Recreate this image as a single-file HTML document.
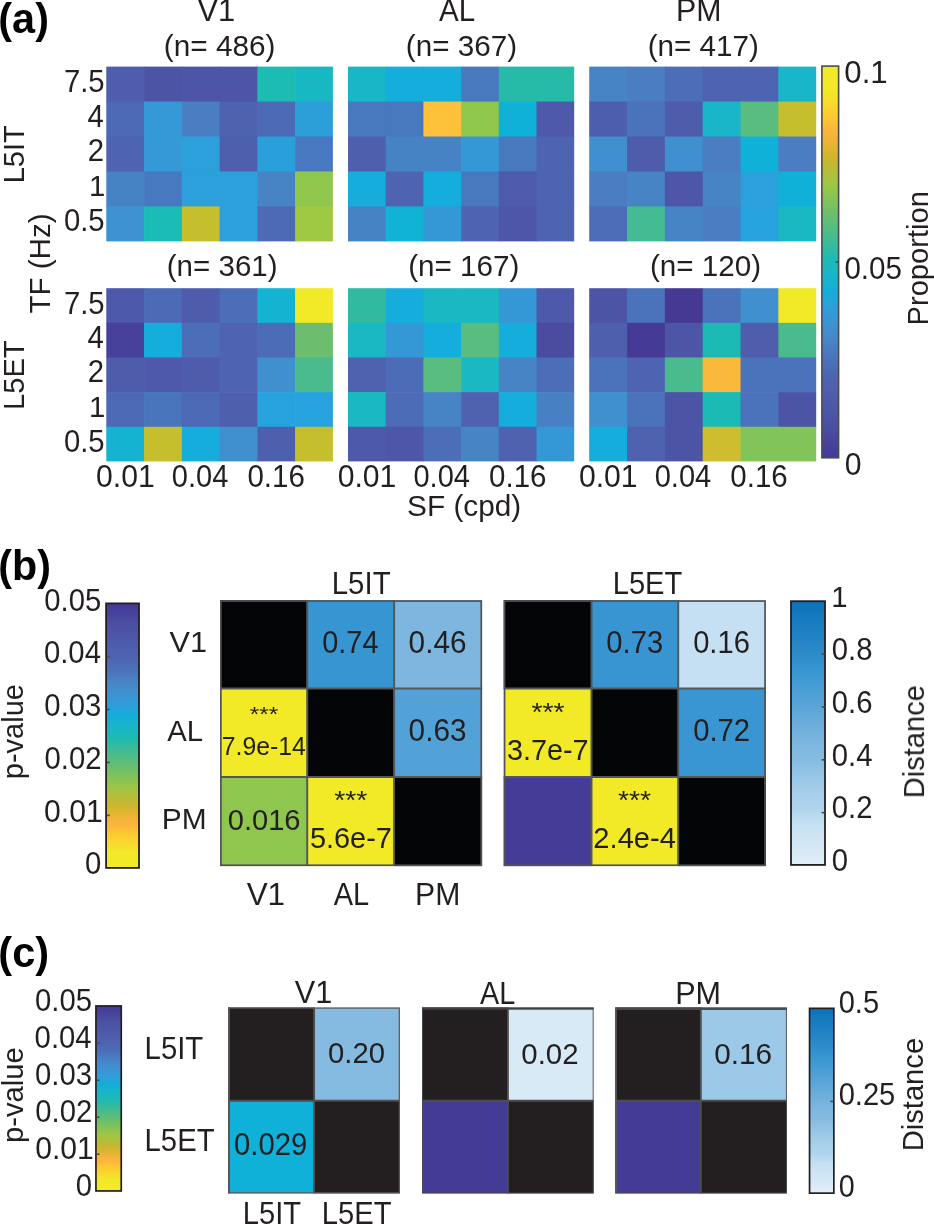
<!DOCTYPE html>
<html lang="en"><head><meta charset="utf-8"><title>Figure</title>
<style>
html,body{margin:0;padding:0;background:#fff;}
body{width:934px;height:1224px;overflow:hidden;}
svg{display:block;}
svg text{font-family:"Liberation Sans",Arial,Helvetica,sans-serif;}
</style></head><body>
<svg width="934" height="1224" viewBox="0 0 934 1224">
<rect width="934" height="1224" fill="#fff"/>
<defs>
<linearGradient id="gp" x1="0" y1="0" x2="0" y2="1">
<stop offset="0.0000" stop-color="#F2EA27"/>
<stop offset="0.0600" stop-color="#F2E928"/>
<stop offset="0.1030" stop-color="#FAD52E"/>
<stop offset="0.1320" stop-color="#FDC830"/>
<stop offset="0.1610" stop-color="#FBB63D"/>
<stop offset="0.1900" stop-color="#F0B338"/>
<stop offset="0.2190" stop-color="#D9B52B"/>
<stop offset="0.2480" stop-color="#C4B732"/>
<stop offset="0.2770" stop-color="#B0C03A"/>
<stop offset="0.3060" stop-color="#9CC646"/>
<stop offset="0.3400" stop-color="#84C357"/>
<stop offset="0.3610" stop-color="#76C163"/>
<stop offset="0.4040" stop-color="#5ABD7C"/>
<stop offset="0.4480" stop-color="#3EBB97"/>
<stop offset="0.4915" stop-color="#1DBAB3"/>
<stop offset="0.5350" stop-color="#18B5C8"/>
<stop offset="0.5790" stop-color="#14ADDA"/>
<stop offset="0.6080" stop-color="#2AA1DC"/>
<stop offset="0.6370" stop-color="#3598D6"/>
<stop offset="0.6660" stop-color="#4090D0"/>
<stop offset="0.7040" stop-color="#4784C6"/>
<stop offset="0.7480" stop-color="#4A73BB"/>
<stop offset="0.7910" stop-color="#4D65B2"/>
<stop offset="0.8350" stop-color="#4F5DAD"/>
<stop offset="0.8780" stop-color="#4D56A8"/>
<stop offset="0.9220" stop-color="#4B4FA3"/>
<stop offset="0.9660" stop-color="#47419C"/>
<stop offset="1.0000" stop-color="#443A98"/>
</linearGradient>
<linearGradient id="gpr" x1="0" y1="0" x2="0" y2="1">
<stop offset="0.0000" stop-color="#443A98"/>
<stop offset="0.0340" stop-color="#47419C"/>
<stop offset="0.0780" stop-color="#4B4FA3"/>
<stop offset="0.1220" stop-color="#4D56A8"/>
<stop offset="0.1650" stop-color="#4F5DAD"/>
<stop offset="0.2090" stop-color="#4D65B2"/>
<stop offset="0.2520" stop-color="#4A73BB"/>
<stop offset="0.2960" stop-color="#4784C6"/>
<stop offset="0.3340" stop-color="#4090D0"/>
<stop offset="0.3630" stop-color="#3598D6"/>
<stop offset="0.3920" stop-color="#2AA1DC"/>
<stop offset="0.4210" stop-color="#14ADDA"/>
<stop offset="0.4650" stop-color="#18B5C8"/>
<stop offset="0.5085" stop-color="#1DBAB3"/>
<stop offset="0.5520" stop-color="#3EBB97"/>
<stop offset="0.5960" stop-color="#5ABD7C"/>
<stop offset="0.6390" stop-color="#76C163"/>
<stop offset="0.6600" stop-color="#84C357"/>
<stop offset="0.6940" stop-color="#9CC646"/>
<stop offset="0.7230" stop-color="#B0C03A"/>
<stop offset="0.7520" stop-color="#C4B732"/>
<stop offset="0.7810" stop-color="#D9B52B"/>
<stop offset="0.8100" stop-color="#F0B338"/>
<stop offset="0.8390" stop-color="#FBB63D"/>
<stop offset="0.8680" stop-color="#FDC830"/>
<stop offset="0.8970" stop-color="#FAD52E"/>
<stop offset="0.9400" stop-color="#F2E928"/>
<stop offset="1.0000" stop-color="#F2EA27"/>
</linearGradient>
<linearGradient id="gb" x1="0" y1="0" x2="0" y2="1">
<stop offset="0.0000" stop-color="#0B72B9"/>
<stop offset="0.2000" stop-color="#2D8BCA"/>
<stop offset="0.2600" stop-color="#3795D1"/>
<stop offset="0.3700" stop-color="#53A2D7"/>
<stop offset="0.5400" stop-color="#7DB6DF"/>
<stop offset="0.6000" stop-color="#85BBE1"/>
<stop offset="0.6800" stop-color="#9CC9E8"/>
<stop offset="0.8000" stop-color="#B4D6EE"/>
<stop offset="0.8400" stop-color="#C5E0F3"/>
<stop offset="0.9600" stop-color="#D9EAF7"/>
<stop offset="1.0000" stop-color="#E3F0F9"/>
</linearGradient>
</defs>
<g>
<rect x="106.30" y="66.60" width="38.37" height="35.56" fill="#4E5DAD"/>
<rect x="144.07" y="66.60" width="38.37" height="35.56" fill="#4C54A6"/>
<rect x="181.83" y="66.60" width="38.37" height="35.56" fill="#4C55A7"/>
<rect x="219.60" y="66.60" width="38.37" height="35.56" fill="#4C55A7"/>
<rect x="257.37" y="66.60" width="38.37" height="35.56" fill="#1CBCB3"/>
<rect x="295.13" y="66.60" width="37.77" height="35.56" fill="#18B7C4"/>
<rect x="106.30" y="101.56" width="38.37" height="35.56" fill="#4C69B5"/>
<rect x="144.07" y="101.56" width="38.37" height="35.56" fill="#3499D6"/>
<rect x="181.83" y="101.56" width="38.37" height="35.56" fill="#4A7EC2"/>
<rect x="219.60" y="101.56" width="38.37" height="35.56" fill="#4E62B0"/>
<rect x="257.37" y="101.56" width="38.37" height="35.56" fill="#4C6AB6"/>
<rect x="295.13" y="101.56" width="37.77" height="35.56" fill="#2C9FD9"/>
<rect x="106.30" y="136.52" width="38.37" height="35.56" fill="#4E64B2"/>
<rect x="144.07" y="136.52" width="38.37" height="35.56" fill="#3499D6"/>
<rect x="181.83" y="136.52" width="38.37" height="35.56" fill="#2CA0DA"/>
<rect x="219.60" y="136.52" width="38.37" height="35.56" fill="#4E5FAE"/>
<rect x="257.37" y="136.52" width="38.37" height="35.56" fill="#2AA0DA"/>
<rect x="295.13" y="136.52" width="37.77" height="35.56" fill="#4878BF"/>
<rect x="106.30" y="171.48" width="38.37" height="35.56" fill="#4683C5"/>
<rect x="144.07" y="171.48" width="38.37" height="35.56" fill="#4878BF"/>
<rect x="181.83" y="171.48" width="38.37" height="35.56" fill="#2CA0DA"/>
<rect x="219.60" y="171.48" width="38.37" height="35.56" fill="#2CA0DA"/>
<rect x="257.37" y="171.48" width="38.37" height="35.56" fill="#4684C6"/>
<rect x="295.13" y="171.48" width="37.77" height="35.56" fill="#8FC74D"/>
<rect x="106.30" y="206.44" width="38.37" height="34.96" fill="#3F92D2"/>
<rect x="144.07" y="206.44" width="38.37" height="34.96" fill="#1BBCB8"/>
<rect x="181.83" y="206.44" width="38.37" height="34.96" fill="#C5BE2D"/>
<rect x="219.60" y="206.44" width="38.37" height="34.96" fill="#2CA0DA"/>
<rect x="257.37" y="206.44" width="38.37" height="34.96" fill="#4C6AB6"/>
<rect x="295.13" y="206.44" width="37.77" height="34.96" fill="#A0C943"/>
</g>
<g>
<rect x="106.30" y="288.20" width="38.37" height="35.24" fill="#4D59AA"/>
<rect x="144.07" y="288.20" width="38.37" height="35.24" fill="#4C6AB6"/>
<rect x="181.83" y="288.20" width="38.37" height="35.24" fill="#4E5CAC"/>
<rect x="219.60" y="288.20" width="38.37" height="35.24" fill="#4C6EB8"/>
<rect x="257.37" y="288.20" width="38.37" height="35.24" fill="#14B3D2"/>
<rect x="295.13" y="288.20" width="37.77" height="35.24" fill="#F2EA27"/>
<rect x="106.30" y="322.84" width="38.37" height="35.24" fill="#47419C"/>
<rect x="144.07" y="322.84" width="38.37" height="35.24" fill="#14ADDC"/>
<rect x="181.83" y="322.84" width="38.37" height="35.24" fill="#4C6EB8"/>
<rect x="219.60" y="322.84" width="38.37" height="35.24" fill="#4E64B2"/>
<rect x="257.37" y="322.84" width="38.37" height="35.24" fill="#4C6CB7"/>
<rect x="295.13" y="322.84" width="37.77" height="35.24" fill="#6CBE6E"/>
<rect x="106.30" y="357.48" width="38.37" height="35.24" fill="#4E5CAC"/>
<rect x="144.07" y="357.48" width="38.37" height="35.24" fill="#4E59AB"/>
<rect x="181.83" y="357.48" width="38.37" height="35.24" fill="#4E5CAC"/>
<rect x="219.60" y="357.48" width="38.37" height="35.24" fill="#4E64B2"/>
<rect x="257.37" y="357.48" width="38.37" height="35.24" fill="#4090D0"/>
<rect x="295.13" y="357.48" width="37.77" height="35.24" fill="#4ABB8C"/>
<rect x="106.30" y="392.12" width="38.37" height="35.24" fill="#4C69B5"/>
<rect x="144.07" y="392.12" width="38.37" height="35.24" fill="#4975BC"/>
<rect x="181.83" y="392.12" width="38.37" height="35.24" fill="#4C69B5"/>
<rect x="219.60" y="392.12" width="38.37" height="35.24" fill="#4E5FAE"/>
<rect x="257.37" y="392.12" width="38.37" height="35.24" fill="#26A3DE"/>
<rect x="295.13" y="392.12" width="37.77" height="35.24" fill="#26A3DE"/>
<rect x="106.30" y="426.76" width="38.37" height="34.64" fill="#14B3D2"/>
<rect x="144.07" y="426.76" width="38.37" height="34.64" fill="#C5BE2D"/>
<rect x="181.83" y="426.76" width="38.37" height="34.64" fill="#14ADDC"/>
<rect x="219.60" y="426.76" width="38.37" height="34.64" fill="#4090D0"/>
<rect x="257.37" y="426.76" width="38.37" height="34.64" fill="#4E5FAE"/>
<rect x="295.13" y="426.76" width="37.77" height="34.64" fill="#C5BE2D"/>
</g>
<g>
<rect x="348.00" y="66.60" width="38.30" height="35.56" fill="#18B6C6"/>
<rect x="385.70" y="66.60" width="38.30" height="35.56" fill="#14ADDC"/>
<rect x="423.40" y="66.60" width="38.30" height="35.56" fill="#14ADDC"/>
<rect x="461.10" y="66.60" width="38.30" height="35.56" fill="#4878BE"/>
<rect x="498.80" y="66.60" width="38.30" height="35.56" fill="#26BBA8"/>
<rect x="536.50" y="66.60" width="37.70" height="35.56" fill="#26BBA8"/>
<rect x="348.00" y="101.56" width="38.30" height="35.56" fill="#4878BE"/>
<rect x="385.70" y="101.56" width="38.30" height="35.56" fill="#4878BE"/>
<rect x="423.40" y="101.56" width="38.30" height="35.56" fill="#FDC23A"/>
<rect x="461.10" y="101.56" width="38.30" height="35.56" fill="#8FC74D"/>
<rect x="498.80" y="101.56" width="38.30" height="35.56" fill="#10B1D8"/>
<rect x="536.50" y="101.56" width="37.70" height="35.56" fill="#4E59AB"/>
<rect x="348.00" y="136.52" width="38.30" height="35.56" fill="#4E5FAE"/>
<rect x="385.70" y="136.52" width="38.30" height="35.56" fill="#4683C5"/>
<rect x="423.40" y="136.52" width="38.30" height="35.56" fill="#4683C5"/>
<rect x="461.10" y="136.52" width="38.30" height="35.56" fill="#3598D6"/>
<rect x="498.80" y="136.52" width="38.30" height="35.56" fill="#4878BE"/>
<rect x="536.50" y="136.52" width="37.70" height="35.56" fill="#4E64B2"/>
<rect x="348.00" y="171.48" width="38.30" height="35.56" fill="#14ADDC"/>
<rect x="385.70" y="171.48" width="38.30" height="35.56" fill="#4E64B2"/>
<rect x="423.40" y="171.48" width="38.30" height="35.56" fill="#14ADDC"/>
<rect x="461.10" y="171.48" width="38.30" height="35.56" fill="#4878BE"/>
<rect x="498.80" y="171.48" width="38.30" height="35.56" fill="#4E5AAB"/>
<rect x="536.50" y="171.48" width="37.70" height="35.56" fill="#4E64B2"/>
<rect x="348.00" y="206.44" width="38.30" height="34.96" fill="#4683C5"/>
<rect x="385.70" y="206.44" width="38.30" height="34.96" fill="#10B3D6"/>
<rect x="423.40" y="206.44" width="38.30" height="34.96" fill="#3598D6"/>
<rect x="461.10" y="206.44" width="38.30" height="34.96" fill="#4E64B2"/>
<rect x="498.80" y="206.44" width="38.30" height="34.96" fill="#4D56A8"/>
<rect x="536.50" y="206.44" width="37.70" height="34.96" fill="#4E64B2"/>
</g>
<g>
<rect x="348.00" y="288.20" width="38.30" height="35.24" fill="#30BBA0"/>
<rect x="385.70" y="288.20" width="38.30" height="35.24" fill="#14ADDC"/>
<rect x="423.40" y="288.20" width="38.30" height="35.24" fill="#1AB8C2"/>
<rect x="461.10" y="288.20" width="38.30" height="35.24" fill="#1AB8C2"/>
<rect x="498.80" y="288.20" width="38.30" height="35.24" fill="#3598D6"/>
<rect x="536.50" y="288.20" width="37.70" height="35.24" fill="#4D59AA"/>
<rect x="348.00" y="322.84" width="38.30" height="35.24" fill="#1AB8C2"/>
<rect x="385.70" y="322.84" width="38.30" height="35.24" fill="#3598D6"/>
<rect x="423.40" y="322.84" width="38.30" height="35.24" fill="#14ADDC"/>
<rect x="461.10" y="322.84" width="38.30" height="35.24" fill="#5ABD80"/>
<rect x="498.80" y="322.84" width="38.30" height="35.24" fill="#14ADDC"/>
<rect x="536.50" y="322.84" width="37.70" height="35.24" fill="#4B4CA0"/>
<rect x="348.00" y="357.48" width="38.30" height="35.24" fill="#4E62B0"/>
<rect x="385.70" y="357.48" width="38.30" height="35.24" fill="#4C6CB7"/>
<rect x="423.40" y="357.48" width="38.30" height="35.24" fill="#5ABD80"/>
<rect x="461.10" y="357.48" width="38.30" height="35.24" fill="#1AB8C2"/>
<rect x="498.80" y="357.48" width="38.30" height="35.24" fill="#4684C6"/>
<rect x="536.50" y="357.48" width="37.70" height="35.24" fill="#4C6EB8"/>
<rect x="348.00" y="392.12" width="38.30" height="35.24" fill="#1AB8C2"/>
<rect x="385.70" y="392.12" width="38.30" height="35.24" fill="#4C6CB7"/>
<rect x="423.40" y="392.12" width="38.30" height="35.24" fill="#4684C6"/>
<rect x="461.10" y="392.12" width="38.30" height="35.24" fill="#4E62B0"/>
<rect x="498.80" y="392.12" width="38.30" height="35.24" fill="#14ADDC"/>
<rect x="536.50" y="392.12" width="37.70" height="35.24" fill="#4880C4"/>
<rect x="348.00" y="426.76" width="38.30" height="34.64" fill="#4D59AA"/>
<rect x="385.70" y="426.76" width="38.30" height="34.64" fill="#4D56A8"/>
<rect x="423.40" y="426.76" width="38.30" height="34.64" fill="#4C6EB8"/>
<rect x="461.10" y="426.76" width="38.30" height="34.64" fill="#4684C6"/>
<rect x="498.80" y="426.76" width="38.30" height="34.64" fill="#4E62B0"/>
<rect x="536.50" y="426.76" width="37.70" height="34.64" fill="#3598D6"/>
</g>
<g>
<rect x="589.20" y="66.60" width="38.43" height="35.56" fill="#4684C6"/>
<rect x="627.03" y="66.60" width="38.43" height="35.56" fill="#4A7DC2"/>
<rect x="664.87" y="66.60" width="38.43" height="35.56" fill="#4C6EB8"/>
<rect x="702.70" y="66.60" width="38.43" height="35.56" fill="#4E64B2"/>
<rect x="740.53" y="66.60" width="38.43" height="35.56" fill="#4E64B2"/>
<rect x="778.37" y="66.60" width="37.83" height="35.56" fill="#18B6C8"/>
<rect x="589.20" y="101.56" width="38.43" height="35.56" fill="#4E5EAE"/>
<rect x="627.03" y="101.56" width="38.43" height="35.56" fill="#4A73BB"/>
<rect x="664.87" y="101.56" width="38.43" height="35.56" fill="#4E5CAC"/>
<rect x="702.70" y="101.56" width="38.43" height="35.56" fill="#18B6C8"/>
<rect x="740.53" y="101.56" width="38.43" height="35.56" fill="#5ABD80"/>
<rect x="778.37" y="101.56" width="37.83" height="35.56" fill="#C5BE2D"/>
<rect x="589.20" y="136.52" width="38.43" height="35.56" fill="#4090D0"/>
<rect x="627.03" y="136.52" width="38.43" height="35.56" fill="#4E5CAC"/>
<rect x="664.87" y="136.52" width="38.43" height="35.56" fill="#4090D0"/>
<rect x="702.70" y="136.52" width="38.43" height="35.56" fill="#4A7DC2"/>
<rect x="740.53" y="136.52" width="38.43" height="35.56" fill="#10B1D8"/>
<rect x="778.37" y="136.52" width="37.83" height="35.56" fill="#4A7DC2"/>
<rect x="589.20" y="171.48" width="38.43" height="35.56" fill="#4A7DC2"/>
<rect x="627.03" y="171.48" width="38.43" height="35.56" fill="#4684C6"/>
<rect x="664.87" y="171.48" width="38.43" height="35.56" fill="#4D56A8"/>
<rect x="702.70" y="171.48" width="38.43" height="35.56" fill="#4684C6"/>
<rect x="740.53" y="171.48" width="38.43" height="35.56" fill="#2CA0DA"/>
<rect x="778.37" y="171.48" width="37.83" height="35.56" fill="#10B1D8"/>
<rect x="589.20" y="206.44" width="38.43" height="34.96" fill="#4C6EB8"/>
<rect x="627.03" y="206.44" width="38.43" height="34.96" fill="#44BB92"/>
<rect x="664.87" y="206.44" width="38.43" height="34.96" fill="#4684C6"/>
<rect x="702.70" y="206.44" width="38.43" height="34.96" fill="#4A7DC2"/>
<rect x="740.53" y="206.44" width="38.43" height="34.96" fill="#26A3DE"/>
<rect x="778.37" y="206.44" width="37.83" height="34.96" fill="#1AB8C2"/>
</g>
<g>
<rect x="589.20" y="288.20" width="38.43" height="35.24" fill="#4C54A6"/>
<rect x="627.03" y="288.20" width="38.43" height="35.24" fill="#4A73BB"/>
<rect x="664.87" y="288.20" width="38.43" height="35.24" fill="#453993"/>
<rect x="702.70" y="288.20" width="38.43" height="35.24" fill="#4A73BB"/>
<rect x="740.53" y="288.20" width="38.43" height="35.24" fill="#4090D0"/>
<rect x="778.37" y="288.20" width="37.83" height="35.24" fill="#F2EA27"/>
<rect x="589.20" y="322.84" width="38.43" height="35.24" fill="#4E5FAE"/>
<rect x="627.03" y="322.84" width="38.43" height="35.24" fill="#453A96"/>
<rect x="664.87" y="322.84" width="38.43" height="35.24" fill="#4C55A6"/>
<rect x="702.70" y="322.84" width="38.43" height="35.24" fill="#1CBAB4"/>
<rect x="740.53" y="322.84" width="38.43" height="35.24" fill="#4E5EAD"/>
<rect x="778.37" y="322.84" width="37.83" height="35.24" fill="#4ABB8C"/>
<rect x="589.20" y="357.48" width="38.43" height="35.24" fill="#4A73BB"/>
<rect x="627.03" y="357.48" width="38.43" height="35.24" fill="#4E64B2"/>
<rect x="664.87" y="357.48" width="38.43" height="35.24" fill="#4ABB8C"/>
<rect x="702.70" y="357.48" width="38.43" height="35.24" fill="#FBB93C"/>
<rect x="740.53" y="357.48" width="38.43" height="35.24" fill="#4A73BB"/>
<rect x="778.37" y="357.48" width="37.83" height="35.24" fill="#4A73BB"/>
<rect x="589.20" y="392.12" width="38.43" height="35.24" fill="#4090D0"/>
<rect x="627.03" y="392.12" width="38.43" height="35.24" fill="#4A73BB"/>
<rect x="664.87" y="392.12" width="38.43" height="35.24" fill="#4C54A6"/>
<rect x="702.70" y="392.12" width="38.43" height="35.24" fill="#1CBAB4"/>
<rect x="740.53" y="392.12" width="38.43" height="35.24" fill="#4A73BB"/>
<rect x="778.37" y="392.12" width="37.83" height="35.24" fill="#4C54A6"/>
<rect x="589.20" y="426.76" width="38.43" height="34.64" fill="#14ADDC"/>
<rect x="627.03" y="426.76" width="38.43" height="34.64" fill="#4E62B0"/>
<rect x="664.87" y="426.76" width="38.43" height="34.64" fill="#4C54A6"/>
<rect x="702.70" y="426.76" width="38.43" height="34.64" fill="#CEBD2E"/>
<rect x="740.53" y="426.76" width="38.43" height="34.64" fill="#80C45A"/>
<rect x="778.37" y="426.76" width="37.83" height="34.64" fill="#80C45A"/>
</g>
<rect x="821.90" y="66.10" width="16.70" height="391.70" fill="url(#gp)" stroke="#4B4C50" stroke-width="1.6"/>
<rect x="835.6" y="261.2" width="2.6" height="1.6" fill="#4a4a4a"/>
<rect x="220.00" y="600.20" width="87.20" height="88.40" fill="#030506"/>
<rect x="307.20" y="600.20" width="86.90" height="88.40" fill="#3795D1"/>
<rect x="394.10" y="600.20" width="88.00" height="88.40" fill="#7DB6DF"/>
<rect x="220.00" y="688.60" width="87.20" height="88.40" fill="#F2EA27"/>
<rect x="307.20" y="688.60" width="86.90" height="88.40" fill="#030506"/>
<rect x="394.10" y="688.60" width="88.00" height="88.40" fill="#53A2D7"/>
<rect x="220.00" y="777.00" width="87.20" height="89.10" fill="#8FC74E"/>
<rect x="307.20" y="777.00" width="86.90" height="89.10" fill="#F2EA27"/>
<rect x="394.10" y="777.00" width="88.00" height="89.10" fill="#030506"/>
<line x1="307.20" y1="600.20" x2="307.20" y2="866.10" stroke="#55585A" stroke-width="2.0"/>
<line x1="394.10" y1="600.20" x2="394.10" y2="866.10" stroke="#55585A" stroke-width="2.0"/>
<line x1="220.00" y1="688.60" x2="482.10" y2="688.60" stroke="#55585A" stroke-width="2.0"/>
<line x1="220.00" y1="777.00" x2="482.10" y2="777.00" stroke="#55585A" stroke-width="2.0"/>
<rect x="220.85" y="601.05" width="260.40" height="264.20" fill="none" stroke="#505255" stroke-width="1.7"/>
<rect x="503.70" y="600.20" width="87.80" height="88.40" fill="#030506"/>
<rect x="591.50" y="600.20" width="86.70" height="88.40" fill="#3895D1"/>
<rect x="678.20" y="600.20" width="87.70" height="88.40" fill="#C5E0F3"/>
<rect x="503.70" y="688.60" width="87.80" height="88.40" fill="#F2EA27"/>
<rect x="591.50" y="688.60" width="86.70" height="88.40" fill="#030506"/>
<rect x="678.20" y="688.60" width="87.70" height="88.40" fill="#3A96D2"/>
<rect x="503.70" y="777.00" width="87.80" height="89.10" fill="#453C97"/>
<rect x="591.50" y="777.00" width="86.70" height="89.10" fill="#F2EA27"/>
<rect x="678.20" y="777.00" width="87.70" height="89.10" fill="#030506"/>
<line x1="591.50" y1="600.20" x2="591.50" y2="866.10" stroke="#55585A" stroke-width="2.0"/>
<line x1="678.20" y1="600.20" x2="678.20" y2="866.10" stroke="#55585A" stroke-width="2.0"/>
<line x1="503.70" y1="688.60" x2="765.90" y2="688.60" stroke="#55585A" stroke-width="2.0"/>
<line x1="503.70" y1="777.00" x2="765.90" y2="777.00" stroke="#55585A" stroke-width="2.0"/>
<rect x="504.55" y="601.05" width="260.50" height="264.20" fill="none" stroke="#505255" stroke-width="1.7"/>
<rect x="106.10" y="603.40" width="32.90" height="264.50" fill="url(#gpr)" stroke="#231F20" stroke-width="1.8"/>
<rect x="106.7" y="655.74" width="3" height="1.6" fill="#4a4a4a"/>
<rect x="106.7" y="708.68" width="3" height="1.6" fill="#4a4a4a"/>
<rect x="106.7" y="761.62" width="3" height="1.6" fill="#4a4a4a"/>
<rect x="106.7" y="814.56" width="3" height="1.6" fill="#4a4a4a"/>
<rect x="791.00" y="601.20" width="34.00" height="263.70" fill="url(#gb)" stroke="#231F20" stroke-width="1.8"/>
<rect x="821.7" y="653.34" width="3" height="1.6" fill="#4a4a4a"/>
<rect x="821.7" y="706.18" width="3" height="1.6" fill="#4a4a4a"/>
<rect x="821.7" y="759.02" width="3" height="1.6" fill="#4a4a4a"/>
<rect x="821.7" y="811.86" width="3" height="1.6" fill="#4a4a4a"/>
<rect x="228.10" y="1007.50" width="86.00" height="93.20" fill="#231F20"/>
<rect x="314.10" y="1007.50" width="85.80" height="93.20" fill="#85BBE1"/>
<rect x="228.10" y="1100.70" width="86.00" height="92.70" fill="#0FB1D8"/>
<rect x="314.10" y="1100.70" width="85.80" height="92.70" fill="#231F20"/>
<line x1="314.10" y1="1007.50" x2="314.10" y2="1193.40" stroke="#4D4E50" stroke-width="1.9"/>
<line x1="228.10" y1="1100.70" x2="399.90" y2="1100.70" stroke="#4D4E50" stroke-width="1.9"/>
<rect x="228.70" y="1008.10" width="170.60" height="184.70" fill="none" stroke="#58595B" stroke-width="1.2"/>
<rect x="228.1" y="1007.5" width="1.8" height="185.9" fill="#5A5456"/>
<rect x="422.10" y="1007.50" width="85.80" height="93.20" fill="#231F20"/>
<rect x="507.90" y="1007.50" width="85.70" height="93.20" fill="#D9EAF7"/>
<rect x="422.10" y="1100.70" width="85.80" height="92.70" fill="#443B97"/>
<rect x="507.90" y="1100.70" width="85.70" height="92.70" fill="#231F20"/>
<line x1="507.90" y1="1007.50" x2="507.90" y2="1193.40" stroke="#4D4E50" stroke-width="1.9"/>
<line x1="422.10" y1="1100.70" x2="593.60" y2="1100.70" stroke="#4D4E50" stroke-width="1.9"/>
<rect x="422.55" y="1007.95" width="170.60" height="185.00" fill="none" stroke="#4A4952" stroke-width="0.9"/>
<rect x="615.30" y="1007.50" width="85.50" height="93.20" fill="#231F20"/>
<rect x="700.80" y="1007.50" width="86.00" height="93.20" fill="#9CC9E8"/>
<rect x="615.30" y="1100.70" width="85.50" height="92.70" fill="#443B97"/>
<rect x="700.80" y="1100.70" width="86.00" height="92.70" fill="#231F20"/>
<line x1="700.80" y1="1007.50" x2="700.80" y2="1193.40" stroke="#4D4E50" stroke-width="1.9"/>
<line x1="615.30" y1="1100.70" x2="786.80" y2="1100.70" stroke="#4D4E50" stroke-width="1.9"/>
<rect x="615.75" y="1007.95" width="170.60" height="185.00" fill="none" stroke="#4A4952" stroke-width="0.9"/>
<rect x="422.1" y="1007.6" width="171.5" height="2.1" fill="#3F4043"/>
<rect x="615.3" y="1007.7" width="171.5" height="2.3" fill="#48494B"/>
<rect x="615.2" y="1007.7" width="1.7" height="185.7" fill="#55565A"/>
<rect x="95.95" y="1005.95" width="25.30" height="185.00" fill="url(#gpr)" stroke="#231F20" stroke-width="1.7"/>
<rect x="96.5" y="1042.40" width="3" height="1.6" fill="#4a4a4a"/>
<rect x="96.5" y="1079.40" width="3" height="1.6" fill="#4a4a4a"/>
<rect x="96.5" y="1116.40" width="3" height="1.6" fill="#4a4a4a"/>
<rect x="96.5" y="1153.40" width="3" height="1.6" fill="#4a4a4a"/>
<rect x="809.55" y="1008.35" width="24.30" height="184.80" fill="url(#gb)" stroke="#231F20" stroke-width="1.7"/>
<rect x="830.3" y="1100.6" width="3" height="1.6" fill="#4a4a4a"/>
<g style="opacity:0.999">
<text transform="translate(-1.67,33.40) scale(0.9982,1.0100)" font-size="41.5" font-weight="bold" fill="#000">(a)</text>
<text transform="translate(197.55,20.80) scale(1.0525,1.0600)" font-size="29.3" fill="#231F20">V1</text>
<text transform="translate(439.03,20.80) scale(1.0088,1.0600)" font-size="29.3" fill="#231F20">AL</text>
<text transform="translate(676.10,20.80) scale(1.0328,1.0600)" font-size="29.3" fill="#231F20">PM</text>
<text transform="translate(163.84,55.50) scale(1.0161,1.0200)" font-size="29.3" fill="#231F20">(n= 486)</text>
<text transform="translate(405.85,55.50) scale(1.0124,1.0200)" font-size="29.3" fill="#231F20">(n= 367)</text>
<text transform="translate(647.65,55.50) scale(1.0114,1.0200)" font-size="29.3" fill="#231F20">(n= 417)</text>
<text transform="translate(166.75,275.90) scale(1.0086,1.0200)" font-size="29.3" fill="#231F20">(n= 361)</text>
<text transform="translate(408.15,275.90) scale(1.0114,1.0200)" font-size="29.3" fill="#231F20">(n= 167)</text>
<text transform="translate(649.95,275.90) scale(1.0124,1.0200)" font-size="29.3" fill="#231F20">(n= 120)</text>
<text transform="translate(63.95,92.20) scale(1.0000,1.0400)" font-size="29.3" fill="#231F20">7.5</text>
<text transform="translate(87.44,126.60) scale(1.0000,1.0400)" font-size="29.3" fill="#231F20">4</text>
<text transform="translate(87.80,161.40) scale(1.0000,1.0400)" font-size="29.3" fill="#231F20">2</text>
<text transform="translate(89.04,196.20) scale(1.0000,1.0000)" font-size="29.3" fill="#231F20">1</text>
<text transform="translate(63.94,231.30) scale(1.0000,1.0400)" font-size="29.3" fill="#231F20">0.5</text>
<text transform="translate(63.95,313.50) scale(1.0000,1.0400)" font-size="29.3" fill="#231F20">7.5</text>
<text transform="translate(87.44,347.80) scale(1.0000,1.0400)" font-size="29.3" fill="#231F20">4</text>
<text transform="translate(87.80,382.10) scale(1.0000,1.0400)" font-size="29.3" fill="#231F20">2</text>
<text transform="translate(89.04,417.30) scale(1.0000,1.0000)" font-size="29.3" fill="#231F20">1</text>
<text transform="translate(63.94,451.60) scale(1.0000,1.0400)" font-size="29.3" fill="#231F20">0.5</text>
<text transform="translate(95.99,486.50) scale(1.0298,1.0850)" font-size="29.3" fill="#231F20">0.01</text>
<text transform="translate(171.74,486.50) scale(0.9925,1.0850)" font-size="29.3" fill="#231F20">0.04</text>
<text transform="translate(247.42,486.50) scale(1.0060,1.0850)" font-size="29.3" fill="#231F20">0.16</text>
<text transform="translate(337.69,486.50) scale(1.0298,1.0850)" font-size="29.3" fill="#231F20">0.01</text>
<text transform="translate(413.44,486.50) scale(0.9925,1.0850)" font-size="29.3" fill="#231F20">0.04</text>
<text transform="translate(489.12,486.50) scale(1.0060,1.0850)" font-size="29.3" fill="#231F20">0.16</text>
<text transform="translate(578.89,486.50) scale(1.0298,1.0850)" font-size="29.3" fill="#231F20">0.01</text>
<text transform="translate(654.64,486.50) scale(0.9925,1.0850)" font-size="29.3" fill="#231F20">0.04</text>
<text transform="translate(730.32,486.50) scale(1.0060,1.0850)" font-size="29.3" fill="#231F20">0.16</text>
<text transform="translate(407.06,516.40) scale(1.0170,1.0200)" font-size="29.3" fill="#231F20">SF (cpd)</text>
<text transform="translate(24.05,183.29) rotate(-90) scale(0.9657,1)" font-size="30.0" fill="#231F20">L5IT</text>
<text transform="translate(24.10,410.00) rotate(-90) scale(0.9716,1)" font-size="30.0" fill="#231F20">L5ET</text>
<text transform="translate(50.40,313.46) rotate(-90) scale(0.9841,1)" font-size="30.0" fill="#231F20">TF (Hz)</text>
<text transform="translate(844.35,82.70) scale(1.0654,1.0750)" font-size="29.3" fill="#231F20">0.1</text>
<text transform="translate(844.42,278.50) scale(1.0083,1.0750)" font-size="29.3" fill="#231F20">0.05</text>
<text transform="translate(844.69,474.80) scale(1.0293,1.0750)" font-size="29.3" fill="#231F20">0</text>
<text transform="translate(927.50,325.40) rotate(-90) scale(0.9698,1)" font-size="30.0" fill="#231F20">Proportion</text>
<text transform="translate(-1.66,580.30) scale(0.9946,1.0100)" font-size="41.5" font-weight="bold" fill="#000">(b)</text>
<text transform="translate(331.78,593.80) scale(1.0032,1.0750)" font-size="29.3" fill="#231F20">L5IT</text>
<text transform="translate(612.70,593.80) scale(0.9933,1.0750)" font-size="29.3" fill="#231F20">L5ET</text>
<text transform="translate(169.55,652.30) scale(1.0457,1.0000)" font-size="29.3" fill="#231F20">V1</text>
<text transform="translate(167.33,741.10) scale(1.0002,1.0000)" font-size="29.3" fill="#231F20">AL</text>
<text transform="translate(161.83,829.20) scale(1.0201,1.0000)" font-size="29.3" fill="#231F20">PM</text>
<text transform="translate(246.64,904.80) scale(1.0729,1.0600)" font-size="29.3" fill="#231F20">V1</text>
<text transform="translate(333.63,904.80) scale(0.9887,1.0600)" font-size="29.3" fill="#231F20">AL</text>
<text transform="translate(415.11,904.80) scale(1.0303,1.0600)" font-size="29.3" fill="#231F20">PM</text>
<text transform="translate(322.24,653.00) scale(0.9871,1.0500)" font-size="29.3" fill="#231F20">0.74</text>
<text transform="translate(408.61,653.00) scale(1.0152,1.0500)" font-size="29.3" fill="#231F20">0.46</text>
<text transform="translate(408.61,740.90) scale(1.0152,1.0500)" font-size="29.3" fill="#231F20">0.63</text>
<text transform="translate(249.77,720.55) scale(0.9554,0.7701)" font-size="25.6" fill="#231F20">***</text>
<text transform="translate(221.70,754.90) scale(0.9689,0.9750)" font-size="25.6" fill="#231F20">7.9e-14</text>
<text transform="translate(227.74,829.60) scale(0.9929,1.0200)" font-size="29.3" fill="#231F20">0.016</text>
<text transform="translate(334.30,809.09) scale(0.9674,0.8581)" font-size="29.3" fill="#231F20">***</text>
<text transform="translate(309.94,847.90) scale(0.9872,0.9850)" font-size="29.3" fill="#231F20">5.6e-7</text>
<text transform="translate(606.33,652.60) scale(0.9969,1.0500)" font-size="29.3" fill="#231F20">0.73</text>
<text transform="translate(693.13,652.60) scale(0.9950,1.0500)" font-size="29.3" fill="#231F20">0.16</text>
<text transform="translate(693.13,740.80) scale(0.9991,1.0500)" font-size="29.3" fill="#231F20">0.72</text>
<text transform="translate(531.40,720.88) scale(0.9734,0.8776)" font-size="29.3" fill="#231F20">***</text>
<text transform="translate(507.02,760.00) scale(0.9826,0.9850)" font-size="29.3" fill="#231F20">3.7e-7</text>
<text transform="translate(618.00,809.09) scale(0.9674,0.8581)" font-size="29.3" fill="#231F20">***</text>
<text transform="translate(593.34,848.20) scale(0.9951,0.9850)" font-size="29.3" fill="#231F20">2.4e-4</text>
<text transform="translate(44.28,610.60) scale(1.0000,1.0850)" font-size="29.3" fill="#231F20">0.05</text>
<text transform="translate(43.92,662.90) scale(1.0000,1.0850)" font-size="29.3" fill="#231F20">0.04</text>
<text transform="translate(44.36,715.90) scale(1.0000,1.0850)" font-size="29.3" fill="#231F20">0.03</text>
<text transform="translate(44.58,768.90) scale(1.0000,1.0850)" font-size="29.3" fill="#231F20">0.02</text>
<text transform="translate(43.99,821.90) scale(1.0298,1.0850)" font-size="29.3" fill="#231F20">0.01</text>
<text transform="translate(84.94,874.20) scale(1.0000,1.0850)" font-size="29.3" fill="#231F20">0</text>
<text transform="translate(23.40,779.18) rotate(-90) scale(0.9664,1)" font-size="30.0" fill="#231F20">p-value</text>
<text transform="translate(831.32,607.00) scale(1.0000,1.0000)" font-size="29.3" fill="#231F20">1</text>
<text transform="translate(831.73,659.84) scale(1.0000,1.0450)" font-size="29.3" fill="#231F20">0.8</text>
<text transform="translate(831.73,712.68) scale(1.0000,1.0450)" font-size="29.3" fill="#231F20">0.6</text>
<text transform="translate(831.73,765.52) scale(1.0000,1.0450)" font-size="29.3" fill="#231F20">0.4</text>
<text transform="translate(831.73,818.36) scale(1.0000,1.0450)" font-size="29.3" fill="#231F20">0.2</text>
<text transform="translate(831.73,871.20) scale(1.0000,1.0450)" font-size="29.3" fill="#231F20">0</text>
<text transform="translate(924.05,798.30) rotate(-90) scale(0.9695,1)" font-size="30.0" fill="#231F20">Distance</text>
<text transform="translate(-1.68,967.30) scale(1.0025,1.0100)" font-size="41.5" font-weight="bold" fill="#000">(c)</text>
<text transform="translate(294.75,1003.40) scale(1.0457,1.0600)" font-size="29.3" fill="#231F20">V1</text>
<text transform="translate(480.03,1003.60) scale(0.9829,1.0600)" font-size="29.3" fill="#231F20">AL</text>
<text transform="translate(675.18,1003.60) scale(1.0431,1.0600)" font-size="29.3" fill="#231F20">PM</text>
<text transform="translate(144.58,1059.20) scale(1.0014,1.0600)" font-size="29.3" fill="#231F20">L5IT</text>
<text transform="translate(144.58,1151.30) scale(0.9992,1.0600)" font-size="29.3" fill="#231F20">L5ET</text>
<text transform="translate(242.80,1223.80) scale(0.9942,1.0750)" font-size="29.3" fill="#231F20">L5IT</text>
<text transform="translate(321.80,1223.80) scale(0.9948,1.0750)" font-size="29.3" fill="#231F20">L5ET</text>
<text transform="translate(328.03,1062.90) scale(0.9978,1.0300)" font-size="29.3" fill="#231F20">0.20</text>
<text transform="translate(234.03,1154.90) scale(0.9995,1.0400)" font-size="29.3" fill="#231F20">0.029</text>
<text transform="translate(521.32,1063.50) scale(1.0046,1.0300)" font-size="29.3" fill="#231F20">0.02</text>
<text transform="translate(714.21,1063.50) scale(1.0152,1.0300)" font-size="29.3" fill="#231F20">0.16</text>
<text transform="translate(34.98,1011.10) scale(1.0000,1.0750)" font-size="29.3" fill="#231F20">0.05</text>
<text transform="translate(34.62,1048.00) scale(1.0000,1.0750)" font-size="29.3" fill="#231F20">0.04</text>
<text transform="translate(35.06,1084.90) scale(1.0000,1.0750)" font-size="29.3" fill="#231F20">0.03</text>
<text transform="translate(35.28,1121.80) scale(1.0000,1.0750)" font-size="29.3" fill="#231F20">0.02</text>
<text transform="translate(35.20,1158.70) scale(1.0278,1.0750)" font-size="29.3" fill="#231F20">0.01</text>
<text transform="translate(75.64,1195.60) scale(1.0000,1.0750)" font-size="29.3" fill="#231F20">0</text>
<text transform="translate(23.40,1142.89) rotate(-90) scale(0.9716,1)" font-size="30.0" fill="#231F20">p-value</text>
<text transform="translate(838.64,1012.60) scale(0.9926,1.0450)" font-size="29.3" fill="#231F20">0.5</text>
<text transform="translate(838.64,1104.80) scale(0.9937,1.0450)" font-size="29.3" fill="#231F20">0.25</text>
<text transform="translate(838.65,1196.70) scale(0.9792,1.0450)" font-size="29.3" fill="#231F20">0</text>
<text transform="translate(923.20,1151.31) rotate(-90) scale(0.9721,1)" font-size="30.0" fill="#231F20">Distance</text>
</g>
</svg>
</body></html>
